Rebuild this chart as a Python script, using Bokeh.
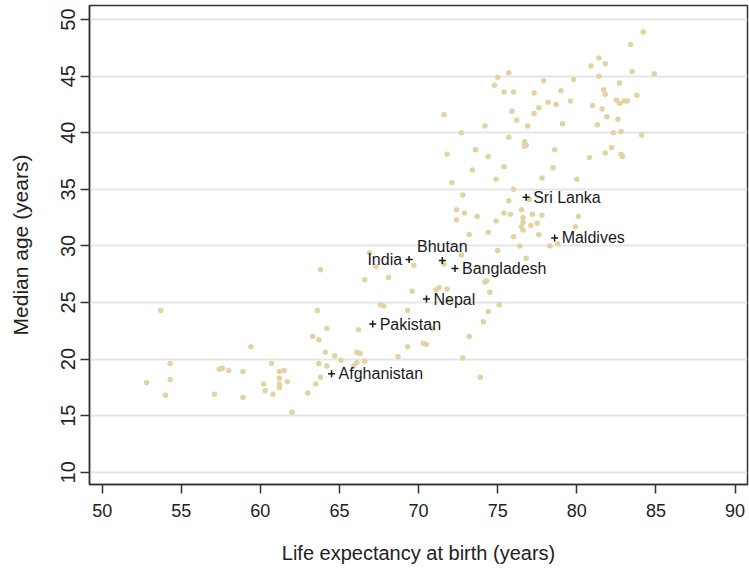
from bokeh.plotting import figure
from bokeh.models import ColumnDataSource, FixedTicker, Range1d
from bokeh.core.properties import value
from bokeh.embed import file_html
from bokeh.resources import INLINE

# ---- data: all countries (life expectancy at birth, median age) ----
life_expectancy = [
    53.7, 63.8, 63.6, 63.3, 63.7, 59.4, 54.3, 52.8, 54.3, 54.0,
    57.4, 57.6, 58.0, 58.9, 57.1, 58.9, 60.7, 61.2, 61.5, 61.2,
    60.2, 61.2, 61.2, 61.7, 60.3, 60.8, 62.0, 63.0, 63.5, 63.8,
    63.7, 64.2, 66.2, 64.1, 64.7, 65.1, 66.1, 66.3, 66.6, 66.1,
    65.9, 64.2, 68.7, 69.3, 70.3, 70.5, 67.6, 67.8, 69.3, 70.9,
    66.9, 67.3, 68.1, 66.6, 69.7, 69.6, 71.6, 72.7, 71.1, 71.3,
    71.8, 74.2, 74.3, 74.5, 75.0, 74.9, 74.4, 73.7, 73.2, 72.4,
    72.9, 72.4, 72.8, 72.1, 73.4, 71.8, 74.9, 74.4, 73.6, 72.7,
    74.2, 71.6, 74.8, 75.0, 71.9, 75.1, 74.4, 74.1, 73.2, 72.8,
    73.9, 76.4, 76.8, 78.3, 78.8, 75.4, 76.0, 77.3, 78.2, 78.7,
    75.9, 76.2, 77.3, 77.6, 76.9, 75.7, 76.7, 76.8, 76.7, 78.6,
    75.4, 77.8, 78.5, 76.0, 75.7, 77.0, 75.4, 75.8, 76.5, 76.6,
    76.6, 76.5, 76.6, 77.2, 77.5, 77.1, 77.8, 76.0, 77.6, 84.2,
    83.4, 81.4, 80.9, 81.8, 75.7, 77.9, 79.8, 81.4, 83.5, 84.9,
    82.7, 79.0, 81.7, 81.8, 79.6, 81.0, 81.6, 82.5, 83.0, 82.7,
    83.2, 83.8, 81.9, 82.6, 81.3, 79.1, 82.3, 82.8, 84.1, 81.8,
    82.2, 82.8, 82.9, 80.8, 80.0, 80.1, 79.9,
]
median_age = [
    24.3, 27.9, 24.3, 22.0, 21.7, 21.1, 19.6, 17.9, 18.2, 16.8,
    19.1, 19.2, 19.0, 18.9, 16.9, 16.6, 19.6, 18.9, 19.0, 18.3,
    17.8, 17.8, 17.5, 18.0, 17.2, 16.9, 15.3, 17.0, 17.8, 18.4,
    19.6, 22.7, 22.6, 20.6, 20.3, 19.9, 20.6, 20.5, 19.8, 19.7,
    19.4, 19.4, 20.2, 21.1, 21.4, 21.3, 24.8, 24.7, 24.3, 22.7,
    29.4, 28.2, 27.2, 27.0, 28.3, 26.0, 28.4, 29.2, 26.1, 26.3,
    26.2, 26.8, 26.9, 25.9, 29.6, 32.2, 31.2, 32.6, 31.0, 33.2,
    32.9, 32.3, 34.5, 35.6, 36.7, 38.1, 35.9, 37.9, 38.5, 40.0,
    40.6, 41.6, 44.2, 44.9, 25.3, 24.8, 24.2, 23.3, 22.0, 20.1,
    18.4, 30.0, 28.9, 30.0, 30.2, 43.6, 43.6, 43.5, 42.7, 42.5,
    41.9, 41.1, 41.7, 42.2, 40.6, 39.6, 39.2, 38.9, 38.8, 38.5,
    37.0, 36.0, 36.9, 35.0, 34.0, 34.1, 32.9, 32.8, 33.2, 32.5,
    32.1, 31.7, 31.4, 32.8, 32.0, 31.8, 32.7, 30.8, 31.0, 48.9,
    47.8, 46.6, 45.9, 46.1, 45.3, 44.6, 44.7, 45.0, 45.4, 45.2,
    44.4, 43.7, 43.8, 43.4, 42.8, 42.4, 42.1, 42.9, 42.8, 42.6,
    42.8, 43.3, 41.4, 41.2, 40.7, 40.8, 40.0, 40.1, 39.8, 38.2,
    38.7, 38.1, 37.9, 37.8, 35.9, 32.6, 31.7,
]

# ---- highlighted South Asian countries ----
countries = ["Afghanistan", "Pakistan", "India", "Nepal", "Bhutan",
             "Bangladesh", "Sri Lanka", "Maldives"]
country_life_expectancy = [64.5, 67.1, 69.4, 70.5, 71.5, 72.3, 76.8, 78.6]
country_median_age = [18.7, 23.1, 28.8, 25.3, 28.7, 28.0, 34.3, 30.7]
label_side = ["right", "right", "left", "right", "above", "right", "right", "right"]

x_ticks = [50, 55, 60, 65, 70, 75, 80, 85, 90]
y_ticks = [10, 15, 20, 25, 30, 35, 40, 45, 50]

FONT = "Liberation Sans"
DARK = "#222222"

p = figure(
    frame_width=658, frame_height=479,
    x_range=Range1d(49.2, 90.79), y_range=Range1d(8.92, 51.24),
    output_backend="svg", toolbar_location=None,
    min_border_left=89, min_border_right=2, min_border_top=5, min_border_bottom=85,
    background_fill_color="white", border_fill_color="white",
)
p.outline_line_color = "#333333"
p.outline_line_width = 1.5
p.outline_line_alpha = 1.0

# axes
for ax in (p.xaxis[0], p.yaxis[0]):
    ax.axis_line_color = "#333333"
    ax.axis_line_width = 1.5
    ax.major_tick_line_color = "#333333"
    ax.major_tick_line_width = 1.5
    ax.major_tick_out = 9
    ax.major_tick_in = 0
    ax.minor_tick_line_color = None
    ax.major_label_text_font = FONT
    ax.major_label_text_color = DARK
    ax.axis_label_text_font = FONT
    ax.axis_label_text_font_style = "normal"
    ax.axis_label_text_color = DARK

p.xaxis.ticker = FixedTicker(ticks=x_ticks)
p.yaxis.ticker = FixedTicker(ticks=y_ticks)
p.xaxis.axis_label = "Life expectancy at birth (years)"
p.yaxis.axis_label = "Median age (years)"
p.xaxis.major_label_text_font_size = "18px"
p.yaxis.major_label_text_font_size = "20px"
p.xaxis.axis_label_text_font_size = "20px"
p.yaxis.axis_label_text_font_size = "21px"
p.yaxis.major_label_orientation = "vertical"
p.xaxis.major_label_standoff = 10
p.yaxis.major_label_standoff = 5
p.xaxis.axis_label_standoff = 22
p.yaxis.axis_label_standoff = 27

p.xgrid.visible = False
p.ygrid.ticker = FixedTicker(ticks=y_ticks)
p.ygrid.grid_line_color = "#e6e6e6"
p.ygrid.grid_line_width = 2

# all countries
src_all = ColumnDataSource(dict(x=life_expectancy, y=median_age))
p.scatter("x", "y", source=src_all, marker="circle", size=5.5,
          fill_color="#e3d3a2", line_color=None)

# highlighted countries
src_c = ColumnDataSource(dict(x=country_life_expectancy, y=country_median_age, name=countries))
p.scatter("x", "y", source=src_c, marker="cross", size=7,
          line_color="#1a1a1a", line_width=1.5)


def subset(side):
    idx = [i for i, s in enumerate(label_side) if s == side]
    return ColumnDataSource(dict(
        x=[country_life_expectancy[i] for i in idx],
        y=[country_median_age[i] for i in idx],
        name=[countries[i] for i in idx],
    ))


common = dict(text="name", text_font=value(FONT), text_font_size="16px",
              text_color="#1a1a1a")
p.text("x", "y", source=subset("right"), text_align="left",
       text_baseline="middle", x_offset=7, **common)
p.text("x", "y", source=subset("left"), text_align="right",
       text_baseline="middle", x_offset=-7, **common)
p.text("x", "y", source=subset("above"), text_align="center",
       text_baseline="alphabetic", y_offset=-14, **common)

open("out.html", "w").write(file_html(p, INLINE))
